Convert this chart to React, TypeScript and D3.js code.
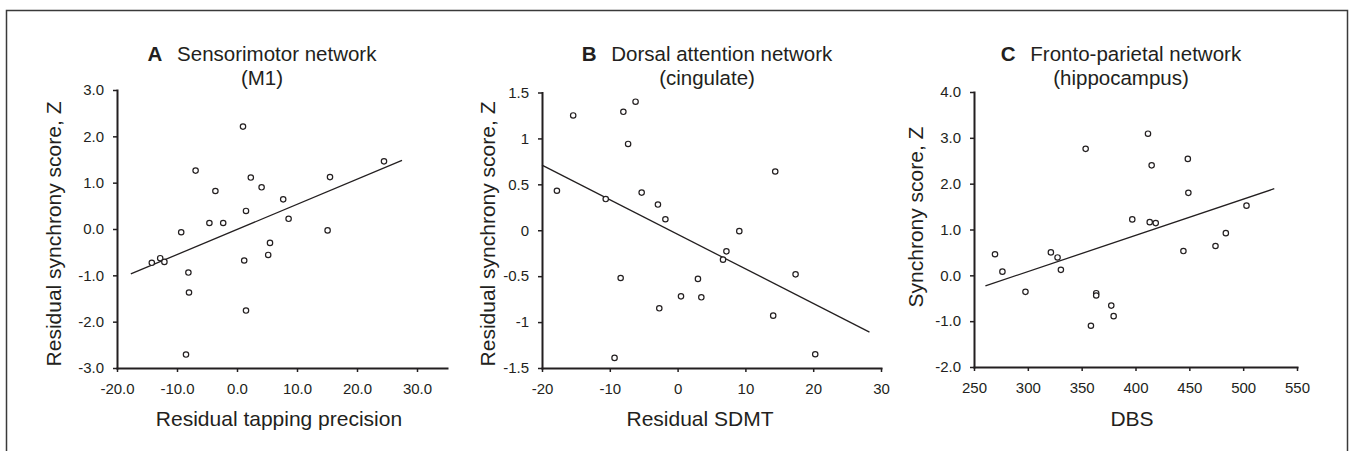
import { useEffect, useRef } from "react";
import * as d3 from "d3";

// Panel A: residual tapping precision vs residual synchrony (M1)
const aTapping = [1.0, -6.9, 24.5, 2.3, 15.5, 4.1, -3.6, 7.7, 1.5, -4.6, -2.3, 8.6, -9.3, 15.1, 5.5, 5.2, 1.2, -14.2, -12.8, -12.1, -8.1, -8.0, 1.5, -8.5];
const aSync = [2.21, 1.26, 1.46, 1.11, 1.12, 0.9, 0.82, 0.64, 0.39, 0.13, 0.13, 0.22, -0.07, -0.03, -0.3, -0.56, -0.68, -0.73, -0.63, -0.71, -0.94, -1.37, -1.76, -2.71];
const aFit = [[-17.7, -0.97], [27.5, 1.48]];
const aXTicks = [-20, -10, 0, 10, 20, 30];
const aYTicks = [-3, -2, -1, 0, 1, 2, 3];

// Panel B: residual SDMT vs residual synchrony (cingulate)
const bSdmt = [-17.8, -15.4, -8.0, -6.2, -7.3, -10.6, -5.3, -2.9, -1.8, 9.1, 14.4, 7.2, 6.7, 17.4, -8.4, 3.0, 0.5, 3.5, -2.7, 14.1, -9.3, 20.3];
const bSync = [0.43, 1.25, 1.29, 1.4, 0.94, 0.34, 0.41, 0.28, 0.12, -0.01, 0.64, -0.23, -0.32, -0.48, -0.52, -0.53, -0.72, -0.73, -0.85, -0.93, -1.39, -1.35];
const bFit = [[-20, 0.71], [28.3, -1.11]];
const bXTicks = [-20, -10, 0, 10, 20, 30];
const bYTicks = [-1.5, -1, -0.5, 0, 0.5, 1, 1.5];

// Panel C: DBS vs synchrony (hippocampus)
const cDbs = [269.5, 276.4, 297.8, 321.4, 327.6, 330.7, 353.7, 363.5, 363.5, 358.6, 377.5, 379.7, 397, 411.6, 415, 413.2, 418.8, 448.6, 449.1, 444.5, 474.3, 483.9, 503.1];
const cSync = [0.46, 0.08, -0.36, 0.5, 0.39, 0.12, 2.76, -0.39, -0.44, -1.1, -0.66, -0.89, 1.22, 3.09, 2.4, 1.16, 1.14, 2.54, 1.8, 0.53, 0.64, 0.92, 1.52];
const cFit = [[260.6, -0.23], [528.9, 1.89]];
const cXTicks = [250, 300, 350, 400, 450, 500, 550];
const cYTicks = [-2, -1, 0, 1, 2, 3, 4];

const ink = "#231f20";
const font = "Arial, 'Liberation Sans', Helvetica, sans-serif";

const fixed1 = (d) => (+d).toFixed(1);
const plain = (d) => String(d);

const panels = [
  {
    letter: "A", title: "Sensorimotor network", sub: "(M1)", titleX: 262,
    xs: aTapping, ys: aSync, fit: aFit, xTicks: aXTicks, yTicks: aYTicks,
    xDomain: [-20, 35], xRange: [117, 447], yDomain: [-3, 3], yRange: [368, 90],
    xFmt: fixed1, yFmt: fixed1,
    xLabel: "Residual tapping precision", xLabelX: 279,
    yLabel: "Residual synchrony score, Z", yLabelX: 61, yLabelY: 234,
  },
  {
    letter: "B", title: "Dorsal attention network", sub: "(cingulate)", titleX: 707,
    xs: bSdmt, ys: bSync, fit: bFit, xTicks: bXTicks, yTicks: bYTicks,
    xDomain: [-20, 30], xRange: [542, 881], yDomain: [-1.5, 1.5], yRange: [368, 92.5],
    xFmt: plain, yFmt: plain,
    xLabel: "Residual SDMT", xLabelX: 700,
    yLabel: "Residual synchrony score, Z", yLabelX: 495, yLabelY: 234,
  },
  {
    letter: "C", title: "Fronto-parietal network", sub: "(hippocampus)", titleX: 1121,
    xs: cDbs, ys: cSync, fit: cFit, xTicks: cXTicks, yTicks: cYTicks,
    xDomain: [250, 550], xRange: [974, 1297], yDomain: [-2, 4], yRange: [367, 92],
    xFmt: plain, yFmt: fixed1,
    xLabel: "DBS", xLabelX: 1132,
    yLabel: "Synchrony score, Z", yLabelX: 923, yLabelY: 217,
  },
];

export default function App() {
  const chartRef = useRef(null);

  useEffect(() => {
    const svg = d3.select(chartRef.current);
    svg.selectAll("*").remove();

    // outer frame (bottom edge runs off the picture)
    svg.append("rect")
      .attr("x", 6.5).attr("y", 10.5)
      .attr("width", 1341).attr("height", 480)
      .attr("fill", "none").attr("stroke", "#3a3a3a").attr("stroke-width", 1.5);

    panels.forEach((p) => {
      const x = d3.scaleLinear().domain(p.xDomain).range(p.xRange);
      const y = d3.scaleLinear().domain(p.yDomain).range(p.yRange);
      const g = svg.append("g");

      // x axis
      const xa = g.append("g")
        .attr("transform", `translate(0,${p.yRange[0]})`)
        .call(d3.axisBottom(x).tickValues(p.xTicks).tickFormat(p.xFmt)
          .tickSizeInner(4).tickSizeOuter(0).tickPadding(11));

      // y axis
      const ya = g.append("g")
        .attr("transform", `translate(${p.xRange[0]},0)`)
        .call(d3.axisLeft(y).tickValues(p.yTicks).tickFormat(p.yFmt)
          .tickSizeInner(4).tickSizeOuter(0).tickPadding(9));

      [xa, ya].forEach((a) => {
        a.attr("font-family", font).attr("font-size", 15);
        a.select(".domain").attr("stroke", ink).attr("stroke-width", 2).attr("stroke-linecap", "square");
        a.selectAll(".tick line").attr("stroke", ink).attr("stroke-width", 1.5);
        a.selectAll(".tick text").attr("fill", ink);
      });

      // fitted line
      g.append("line")
        .attr("x1", x(p.fit[0][0])).attr("y1", y(p.fit[0][1]))
        .attr("x2", x(p.fit[1][0])).attr("y2", y(p.fit[1][1]))
        .attr("stroke", ink).attr("stroke-width", 1.3);

      // open circles
      g.selectAll(".dot")
        .data(p.xs.map((v, i) => [v, p.ys[i]]))
        .enter()
        .append("circle")
        .attr("class", "dot")
        .attr("cx", (d) => x(d[0]))
        .attr("cy", (d) => y(d[1]))
        .attr("r", 2.7)
        .attr("fill", "white")
        .attr("stroke", ink)
        .attr("stroke-width", 1.2);

      // title, two lines
      const t = g.append("text")
        .attr("x", p.titleX).attr("y", 61)
        .attr("text-anchor", "middle")
        .style("font-family", font).style("font-size", "20.5px")
        .attr("fill", ink);
      t.append("tspan").attr("font-weight", "bold").text(p.letter);
      t.append("tspan").attr("dx", 9).text(" " + p.title);

      g.append("text")
        .attr("x", p.titleX).attr("y", 85)
        .attr("text-anchor", "middle")
        .style("font-family", font).style("font-size", "20.5px")
        .attr("fill", ink)
        .text(p.sub);

      // axis labels
      g.append("text")
        .attr("x", p.xLabelX).attr("y", 426)
        .attr("text-anchor", "middle")
        .style("font-family", font).style("font-size", "21px")
        .attr("fill", ink)
        .text(p.xLabel);

      g.append("text")
        .attr("transform", `translate(${p.yLabelX},${p.yLabelY}) rotate(-90)`)
        .attr("text-anchor", "middle")
        .style("font-family", font).style("font-size", "21px")
        .attr("fill", ink)
        .text(p.yLabel);
    });
  }, []);

  return (
    <svg
      ref={chartRef}
      width={1353}
      height={451}
      style={{ position: "absolute", left: 0, top: 0, background: "white" }}
    />
  );
}
